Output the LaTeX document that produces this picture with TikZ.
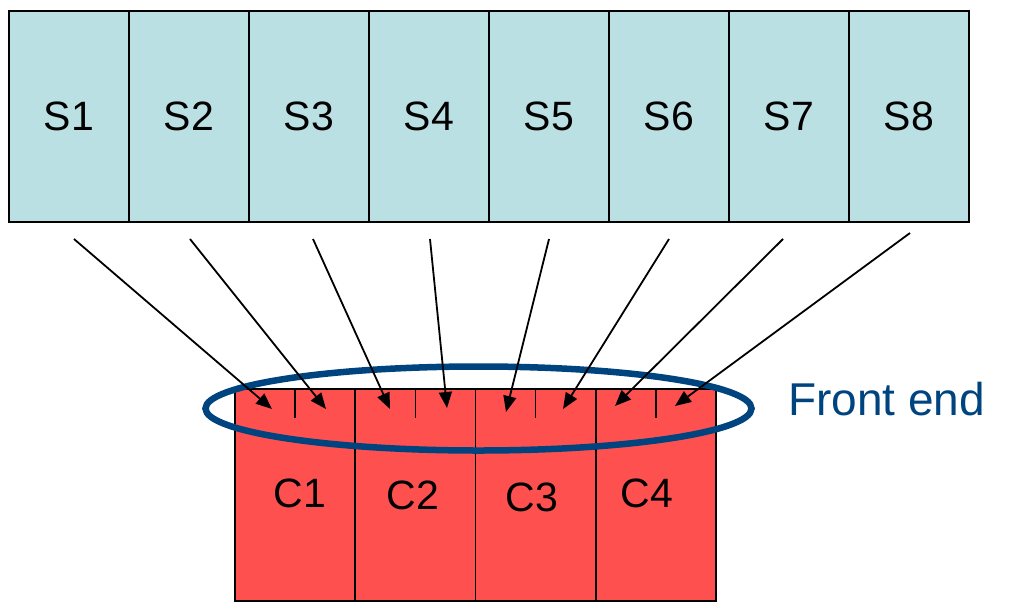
\documentclass[tikz,border=0pt]{standalone}
\usepackage{fontspec}
\setmainfont{Liberation Sans}
\usetikzlibrary{arrows.meta}
\definecolor{slotblue}{HTML}{BBE0E3}
\definecolor{cellred}{HTML}{FF5050}
\definecolor{feblue}{HTML}{00447F}
\tikzset{
  sbox/.style={draw=black, line width=1.5pt, fill=slotblue, minimum width=120pt,
    minimum height=211pt, inner sep=0pt, font=\fontsize{41}{49}\selectfont},
  cbox/.style={draw=black, line width=1.5pt, fill=cellred, minimum width=120.25pt,
    minimum height=212pt, inner sep=0pt},
  clabel/.style={inner sep=0pt, font=\fontsize{41}{49}\selectfont},
  tick/.style={draw=black, line width=1.5pt},
  feed/.style={draw=black, line width=1.8pt, -{Triangle[length=16pt,width=13pt]}},
  ring/.style={draw=feblue, line width=6.5pt},
}
\begin{document}
\begin{tikzpicture}[x=1pt, y=-1pt]
\useasboundingbox (0,0) rectangle (1009,606);

% upper row of slots
\foreach \i/\x in {1/69,2/189,3/309,4/429,5/549,6/669,7/789,8/909}
  \node[sbox] (s\i) at (\x,116.5) {S\i};

% lower row of cells
\foreach \i/\x in {1/295.1,2/415.4,3/535.6,4/655.9}
  \node[cbox] (c\i) at (\x,495) {};
\node[clabel] (c1l) at (300,493) {C1};
\node[clabel] (c2l) at (413,495) {C2};
\node[clabel] (c3l) at (532,497) {C3};
\node[clabel] (c4l) at (647,493) {C4};

% half-cell separators along the top edge
\foreach \i in {1,...,4}
  \draw[tick] (c\i.north) -- ++(0,30);

% front-end ring and its label
\draw[ring] (478.5,408.5) ellipse [x radius=273, y radius=42];
\node[inner sep=0pt, text=feblue, font=\fontsize{46}{54}\selectfont, anchor=base west] (fel) at (788,415) {Front end};

% arrows from slots into the half cells
\foreach \i/\sx/\sy/\tx/\ty in {1/74/239/272/409, 2/190/239/326/409, 3/313/239/390/409,
    4/430/239/447/408, 5/549/239/506/412, 6/669/239/563/409, 7/783/239/615/406, 8/910/233/675/406}{
  \coordinate (a\i) at (\sx,\sy);
  \coordinate (b\i) at (\tx,\ty);
  \draw[feed] (a\i) -- (b\i);
}
\end{tikzpicture}
\end{document}
